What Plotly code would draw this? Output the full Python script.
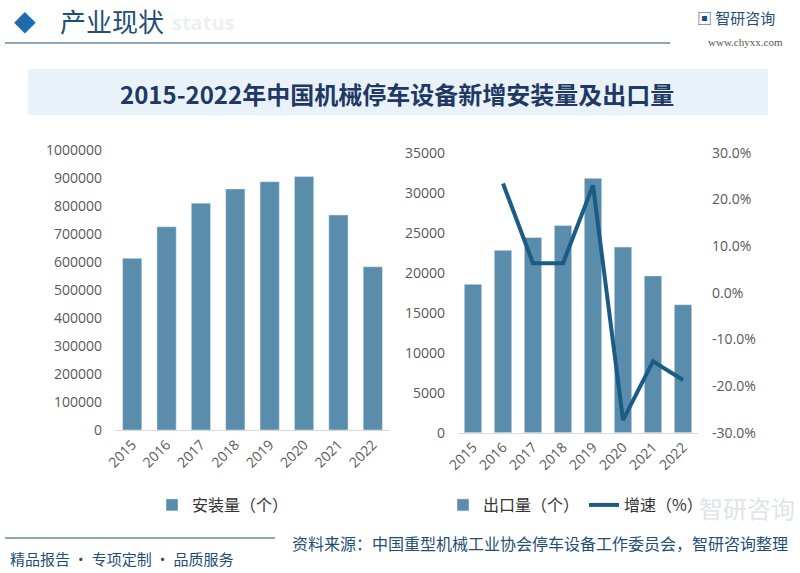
import plotly.graph_objects as go

years = ["2015", "2016", "2017", "2018", "2019", "2020", "2021", "2022"]
install = [613000, 726000, 810000, 861000, 887000, 905000, 768000, 583000]
export = [18550, 22800, 24400, 25900, 31800, 23200, 19600, 16000]
growth_years = ["2016", "2017", "2018", "2019", "2020", "2021", "2022"]
growth = [23.4, 6.3, 6.3, 23.0, -27.3, -14.7, -18.7]
pct_ticks = [-30, -20, -10, 0, 10, 20, 30]
pct_labels = ["-30.0%", "-20.0%", "-10.0%", "0.0%", "10.0%", "20.0%", "30.0%"]

BAR = "#5A8DAC"
LINE = "#1B5B84"
TICK = dict(family="Open Sans, Noto Sans, sans-serif", size=14, color="#595959")
CJK = "Noto Sans CJK SC"

fig = go.Figure()
fig.add_trace(go.Bar(x=years, y=install, name="安装量（个）", marker_color=BAR,
                     width=0.56, xaxis="x", yaxis="y", legend="legend"))
fig.add_trace(go.Bar(x=years, y=export, name="出口量（个）", marker_color=BAR,
                     width=0.58, xaxis="x2", yaxis="y2", legend="legend2"))
fig.add_trace(go.Scatter(x=growth_years, y=growth, name="增速（%）", mode="lines",
                         line=dict(color=LINE, width=4), xaxis="x2", yaxis="y3",
                         legend="legend2"))

H = 573.0
W = 800.0

fig.update_layout(
    width=800, height=573,
    margin=dict(l=0, r=0, t=0, b=0, autoexpand=False),
    paper_bgcolor="white", plot_bgcolor="rgba(0,0,0,0)",
    showlegend=True,
    xaxis=dict(domain=[115 / W, 390 / W], anchor="y", tickangle=-45, tickfont=TICK,
               showline=True, linecolor="#D9D9D9", linewidth=1, ticks="",
               showgrid=False, automargin=False),
    yaxis=dict(domain=[1 - 430 / H, 1 - 150 / H], anchor="x", range=[0, 1000000],
               dtick=100000, tickfont=TICK, showgrid=False, zeroline=False,
               tickformat="d", ticklabelstandoff=12, automargin=False),
    xaxis2=dict(domain=[458 / W, 698 / W], anchor="y2", tickangle=-45, tickfont=TICK,
                showline=True, linecolor="#D9D9D9", linewidth=1, ticks="",
                showgrid=False, automargin=False),
    yaxis2=dict(domain=[1 - 432.7 / H, 1 - 152.7 / H], anchor="x2", range=[0, 35000],
                dtick=5000, tickfont=TICK, showgrid=False, zeroline=False,
                tickformat="d", ticklabelstandoff=12, automargin=False),
    yaxis3=dict(overlaying="y2", side="right", anchor="x2", range=[-30, 30],
                tickvals=pct_ticks, ticktext=pct_labels, tickfont=TICK,
                showgrid=False, zeroline=False, ticklabelstandoff=13, automargin=False),
    legend=dict(x=152 / W, y=1 - 505 / H, xanchor="left", yanchor="middle",
                orientation="h", font=dict(family=CJK, size=16, color="#333333"),
                bgcolor="rgba(0,0,0,0)", itemwidth=30),
    legend2=dict(x=443 / W, y=1 - 505 / H, xanchor="left", yanchor="middle",
                 orientation="h", font=dict(family=CJK, size=16, color="#333333"),
                 bgcolor="rgba(0,0,0,0)", itemwidth=30),
)

shapes = [
    dict(type="rect", xref="paper", yref="paper", x0=28 / W, x1=768 / W,
         y0=1 - 115 / H, y1=1 - 69 / H, fillcolor="#E9F2F9", line=dict(width=0),
         layer="below"),
    dict(type="line", xref="paper", yref="paper", x0=5 / W, x1=670 / W,
         y0=1 - 43 / H, y1=1 - 43 / H, line=dict(color="#1F4E79", width=1.2)),
    dict(type="line", xref="paper", yref="paper", x0=5 / W, x1=275 / W,
         y0=1 - 538 / H, y1=1 - 538 / H, line=dict(color="#1F4E79", width=1.2)),
]
fig.update_layout(shapes=shapes)

ann = []
def text(x, y, s, size, color, family=CJK, anchor="left", bold=False):
    if bold:
        s = "<b>" + s + "</b>"
    ann.append(dict(x=x / W, y=1 - y / H, xref="paper", yref="paper", text=s,
                    showarrow=False, xanchor=anchor, yanchor="middle",
                    font=dict(size=size, color=color, family=family)))

text(170, 23, "status", 20, "#EDF0F3", family="Open Sans", bold=True)
text(12, 20, "◆", 28, "#1F6BB0", family="DejaVu Sans")
text(58, 20, "产业现状", 26, "#1F4E79", bold=False)
text(777, 17, "▣ 智研咨询", 15, "#1F4E79", anchor="right")
text(745, 42, "www.chyxx.com", 11, "#555555", family="Liberation Serif", anchor="center")
text(397, 93, "2015-2022年中国机械停车设备新增安装量及出口量", 24, "#1F3864", bold=True, anchor="center")
text(797, 507, "智研咨询", 24, "#E0E4E8", anchor="right")
text(8, 558, "精品报告 · 专项定制 · 品质服务", 15, "#1F4E79")
text(290, 543, "资料来源：中国重型机械工业协会停车设备工作委员会，智研咨询整理", 16, "#1F4E79")
fig.update_layout(annotations=ann)

fig.write_html("out.html", config={"displayModeBar": False},
               post_script="document.body.style.margin='0';")
